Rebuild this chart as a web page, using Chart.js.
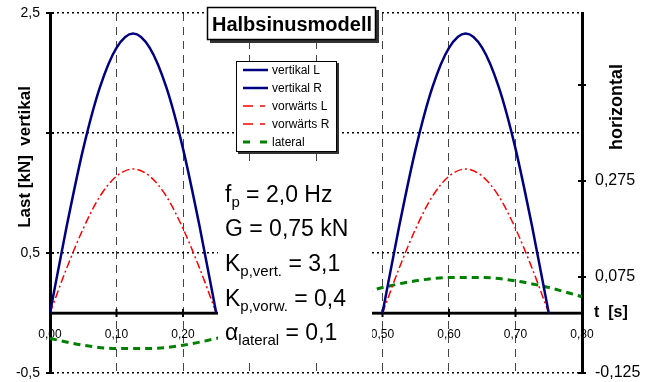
<!DOCTYPE html>
<html>
<head>
<meta charset="utf-8">
<script src="https://cdn.jsdelivr.net/npm/chart.js@4.4.1/dist/chart.umd.min.js"></script>
<style>
    html, body { margin: 0; padding: 0; background: #fff; }
</style>
</head>
<body>
<canvas id="grafico" width="658" height="382"></canvas>
<script>
// Zeitachsen [s]
var tempoL = [0, 0.025, 0.05, 0.075, 0.1, 0.125, 0.15, 0.175, 0.2, 0.225, 0.25];
var tempoR = [0.5, 0.525, 0.55, 0.575, 0.6, 0.625, 0.65, 0.675, 0.7, 0.725, 0.75];
var tempoLat = [0, 0.05, 0.1, 0.15, 0.2, 0.25, 0.3, 0.35, 0.4, 0.45, 0.5, 0.55, 0.6, 0.65, 0.7, 0.75, 0.8];

// Lasten [kN]
var vertikalL = [0, 0.72, 1.37, 1.88, 2.21, 2.33, 2.21, 1.88, 1.37, 0.72, 0];
var vertikalR = [0, 0.72, 1.37, 1.88, 2.21, 2.33, 2.21, 1.88, 1.37, 0.72, 0];
var vorwaertsL = [0, 0.093, 0.176, 0.243, 0.285, 0.30, 0.285, 0.243, 0.176, 0.093, 0];
var vorwaertsR = [0, 0.093, 0.176, 0.243, 0.285, 0.30, 0.285, 0.243, 0.176, 0.093, 0];
var lateral = [-0.053, -0.067, -0.074, -0.074, -0.067, -0.053, -0.034, -0.012, 0.012, 0.034, 0.053, 0.067, 0.074, 0.074, 0.067, 0.053, 0.034];

// Achsen
var ticksX = [0, 0.1, 0.2, 0.3, 0.4, 0.5, 0.6, 0.7, 0.8];
var ticksLinks = [-0.5, 0.5, 1.5, 2.5];
var labelsLinks = ['-0,5', '0,5', '', '2,5'];
var ticksRechts = [-0.125, 0.075, 0.275, 0.475];
var labelsRechts = ['-0,125', '0,075', '0,275', ''];

var schrift = "Arial, 'Liberation Sans', sans-serif";
Chart.defaults.font.family = schrift;
Chart.defaults.color = '#000';

function punkte(ts, vs) {
    return ts.map(function(t, i) { return {x: t, y: vs[i]}; });
}

function linie(ctx, x1, y1, x2, y2) {
    ctx.beginPath();
    ctx.moveTo(x1, y1);
    ctx.lineTo(x2, y2);
    ctx.stroke();
}

// Text mit Index: teile = [[text, groesse, versatz]]
function textIndex(ctx, x, y, teile) {
    teile.forEach(function(t) {
        ctx.font = t[1] + 'px ' + schrift;
        ctx.fillText(t[0], x, y + t[2]);
        x += ctx.measureText(t[0]).width;
    });
}

function ohnePadding(s) {
    s.paddingTop = 0;
    s.paddingBottom = 0;
    s.paddingLeft = 0;
    s.paddingRight = 0;
}

var extras = {
    id: 'extras',
    beforeDatasetsDraw: function(chart) {
        // Zeitachse bei Last = 0
        var ctx = chart.ctx;
        var sx = chart.scales.x, sy = chart.scales.y;
        var y0 = sy.getPixelForValue(0);
        ctx.save();
        ctx.strokeStyle = '#000';
        ctx.lineWidth = 2.5;
        ctx.setLineDash([]);
        linie(ctx, sx.left, y0, sx.right, y0);
        ticksX.forEach(function(v) {
            var px = sx.getPixelForValue(v);
            ctx.lineWidth = 2;
            linie(ctx, px, y0 - 4, px, y0 + 4);
        });
        ctx.restore();
    },
    afterDatasetsDraw: function(chart) {
        var ctx = chart.ctx;
        var sx = chart.scales.x, sy = chart.scales.y, sy2 = chart.scales.y2;
        var y0 = sy.getPixelForValue(0);
        ctx.save();

        // Striche an den Achsen
        ctx.strokeStyle = '#000';
        ctx.lineWidth = 2;
        ctx.setLineDash([]);
        ticksLinks.forEach(function(v) {
            var py = sy.getPixelForValue(v);
            linie(ctx, sx.left - 4, py, sx.left + 4, py);
        });
        ticksRechts.forEach(function(v) {
            var py = sy2.getPixelForValue(v);
            linie(ctx, sx.right - 4, py, sx.right + 4, py);
        });

        // Parameterblock
        ctx.fillStyle = '#fff';
        ctx.fillRect(218, 166, 154, 192);
        ctx.fillStyle = '#000';
        ctx.textBaseline = 'alphabetic';
        ctx.textAlign = 'left';
        textIndex(ctx, 225, 202, [['f', 23, 0], ['p', 15, 5], [' = 2,0 Hz', 23, 0]]);
        textIndex(ctx, 225, 236, [['G = 0,75 kN', 23, 0]]);
        textIndex(ctx, 225, 271, [['K', 23, 0], ['p,vert.', 15, 5], [' = 3,1', 23, 0]]);
        textIndex(ctx, 225, 306, [['K', 23, 0], ['p,vorw.', 15, 5], [' = 0,4', 23, 0]]);
        textIndex(ctx, 225, 340, [['\u03b1', 23, 0], ['lateral', 15, 5], [' = 0,1', 23, 0]]);

        // Legende
        ctx.fillStyle = '#333';
        ctx.fillRect(238, 63, 101, 91);
        ctx.fillStyle = '#fff';
        ctx.fillRect(236, 61, 101, 91);
        ctx.strokeStyle = '#000';
        ctx.lineWidth = 1;
        ctx.strokeRect(236.5, 61.5, 100, 90);
        var zeilen = [70, 88, 106, 124, 142];
        chart.data.datasets.forEach(function(ds, i) {
            var yy = zeilen[i];
            ctx.strokeStyle = ds.borderColor;
            ctx.lineWidth = ds.borderWidth;
            ctx.setLineDash(ds.legendDash || []);
            linie(ctx, 243, yy, 268, yy);
            ctx.setLineDash([]);
            ctx.fillStyle = '#000';
            ctx.font = '12px ' + schrift;
            ctx.textBaseline = 'middle';
            ctx.fillText(ds.label, 272, yy + 1);
        });

        // Titel
        ctx.fillStyle = '#333';
        ctx.fillRect(210, 10, 169, 33);
        ctx.fillStyle = '#fff';
        ctx.fillRect(207, 7, 169, 33);
        ctx.strokeStyle = '#000';
        ctx.lineWidth = 1.5;
        ctx.strokeRect(207.5, 7.5, 168, 32);
        ctx.fillStyle = '#000';
        ctx.font = 'bold 20px ' + schrift;
        ctx.textAlign = 'center';
        ctx.textBaseline = 'alphabetic';
        ctx.fillText('Halbsinusmodell', 292, 31);

        // Achsentitel
        ctx.font = 'bold 16px ' + schrift;
        ctx.textAlign = 'left';
        ctx.textBaseline = 'middle';
        ctx.fillText('t  [s]', 594, y0);
        ctx.textAlign = 'center';
        ctx.save();
        ctx.translate(25, 157);
        ctx.rotate(-Math.PI / 2);
        ctx.font = 'bold 17px ' + schrift;
        ctx.fillText('Last [kN]  vertikal', 0, 0);
        ctx.restore();
        ctx.save();
        ctx.translate(617, 107);
        ctx.rotate(-Math.PI / 2);
        ctx.font = 'bold 18px ' + schrift;
        ctx.fillText('horizontal', 0, 0);
        ctx.restore();

        ctx.restore();
    }
};

var ctx = document.getElementById('grafico').getContext('2d');

var myChart = new Chart(ctx, {
    type: 'line',
    data: {
        datasets: [{
            label: 'vertikal L',
            data: punkte(tempoL, vertikalL),
            borderColor: '#000080',
            borderWidth: 2.5,
            yAxisID: 'y'
        }, {
            label: 'vertikal R',
            data: punkte(tempoR, vertikalR),
            borderColor: '#000080',
            borderWidth: 2.5,
            yAxisID: 'y'
        }, {
            label: 'vorwärts L',
            data: punkte(tempoL, vorwaertsL),
            borderColor: '#ff0000',
            borderWidth: 1.5,
            borderDash: [8, 3, 2, 3],
            legendDash: [10, 7, 5, 7],
            yAxisID: 'y2'
        }, {
            label: 'vorwärts R',
            data: punkte(tempoR, vorwaertsR),
            borderColor: '#ff0000',
            borderWidth: 1.5,
            borderDash: [8, 3, 2, 3],
            legendDash: [10, 7, 5, 7],
            yAxisID: 'y2'
        }, {
            label: 'lateral',
            data: punkte(tempoLat, lateral),
            borderColor: '#008000',
            borderWidth: 3,
            borderDash: [7, 5],
            legendDash: [7, 10],
            yAxisID: 'y2'
        }]
    },
    options: {
        responsive: false,
        animation: false,
        layout: { padding: { top: 13, bottom: 9, left: 0, right: 0 } },
        plugins: { legend: { display: false }, tooltip: { enabled: false } },
        elements: {
            point: { radius: 0 },
            line: { cubicInterpolationMode: 'monotone', fill: false }
        },
        scales: {
            x: {
                type: 'linear',
                min: 0,
                max: 0.8,
                position: { y: 0 },
                afterFit: function(s) { s.height = 0; ohnePadding(s); },
                afterBuildTicks: function(s) { s.ticks = ticksX.map(function(v) { return {value: v}; }); },
                ticks: {
                    autoSkip: false,
                    maxRotation: 0,
                    padding: 14,
                    font: { size: 12 },
                    callback: function(v) { return v.toFixed(2).replace('.', ','); }
                },
                grid: { color: '#444', lineWidth: 1, drawTicks: false },
                border: { color: '#000', width: 2.5, dash: [8, 6] }
            },
            y: {
                position: 'left',
                min: -0.5,
                max: 2.5,
                afterFit: function(s) { s.width = 50; ohnePadding(s); },
                afterBuildTicks: function(s) { s.ticks = ticksLinks.map(function(v) { return {value: v}; }); },
                ticks: {
                    padding: 10,
                    font: { size: 14 },
                    callback: function(v, i) { return labelsLinks[i]; }
                },
                grid: { color: '#000', lineWidth: 1.5, drawTicks: false },
                border: { color: '#000', width: 3, dash: [2, 3] }
            },
            y2: {
                position: 'right',
                min: -0.125,
                max: 0.625,
                afterFit: function(s) { s.width = 76; ohnePadding(s); },
                afterBuildTicks: function(s) { s.ticks = ticksRechts.map(function(v) { return {value: v}; }); },
                ticks: {
                    padding: 13,
                    font: { size: 16 },
                    callback: function(v, i) { return labelsRechts[i]; }
                },
                grid: { drawOnChartArea: false, drawTicks: false },
                border: { color: '#000', width: 3 }
            }
        }
    },
    plugins: [extras]
});
</script>
</body>
</html>
